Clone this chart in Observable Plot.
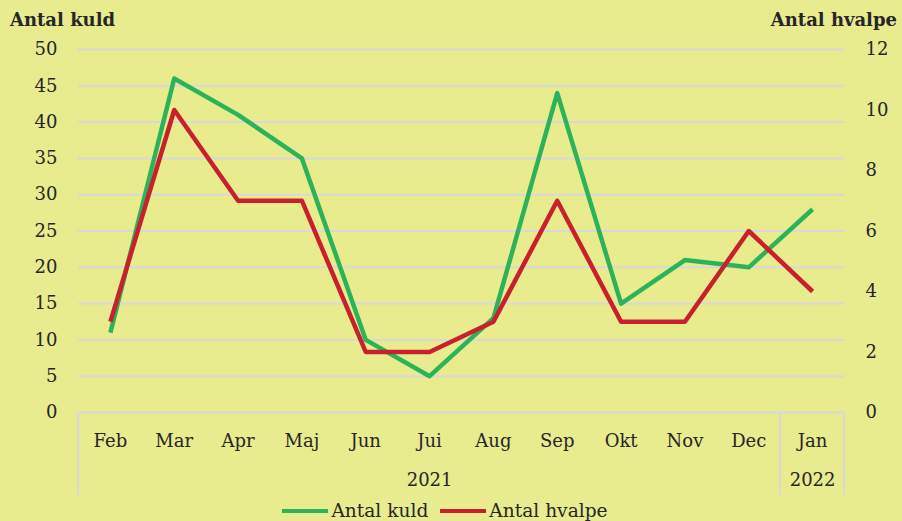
<!DOCTYPE html>
<html>
<head>
<meta charset="utf-8">
<script src="https://cdn.jsdelivr.net/npm/d3@7"></script>
<script src="https://cdn.jsdelivr.net/npm/@observablehq/plot@0.6"></script>
<style>
  html, body { margin: 0; padding: 0; }
  body { width: 902px; height: 521px; overflow: hidden; background: #e8eb8e; font-family: "DejaVu Serif", serif; color: #262626; position: relative; }
  #head { position: relative; height: 36px; font-weight: bold; font-size: 18px; }
  #head .l { position: absolute; left: 10px; top: 10px; line-height: 20px; }
  #head .r { position: absolute; right: 5px; top: 10px; line-height: 20px; }
  #chart svg { display: block; }
  #legend { position: absolute; left: 0; top: 500px; width: 890px; padding-right: 12px; height: 22px; display: flex; justify-content: center; align-items: center; font-size: 18.6px; line-height: 22px; }
  #legend .item { display: flex; align-items: center; margin: 0 6px; }
  #legend .sw { display: inline-block; width: 46px; height: 4px; margin-right: 3px; }
</style>
</head>
<body>
<div id="head"><span class="l">Antal kuld</span><span class="r">Antal hvalpe</span></div>
<div id="chart"></div>
<div id="legend"></div>
<script>
const months = ["Feb","Mar","Apr","Maj","Jun","Jui","Aug","Sep","Okt","Nov","Dec","Jan"];
const kuld = [11,46,41,35,10,5,13,44,15,21,20,28];
const hvalpe = [3,10,7,7,2,2,3,7,3,3,6,4];
const years = [{label:"2021", at:"Jui"}, {label:"2022", at:"Jan"}];
const yearBreaks = ["Feb","Jan"];
const leftTicks = [0,5,10,15,20,25,30,35,40,45,50];
const rightTicks = [0,2,4,6,8,10,12];
const leftMax = 50, rightMax = 12;
const seriesNames = ["Antal kuld","Antal hvalpe"];
const colors = ["#2cb35a","#c8202d"];

const kuldData = months.map((m,i) => ({m, v: kuld[i]}));
const hvalpeData = months.map((m,i) => ({m, v: hvalpe[i]}));
const toLeft = v => v * leftMax / rightMax;

const tickFont = 18;

function separators(index, scales, values, dims) {
  const x = scales.x;
  const step = x(months[1]) - x(months[0]);
  const g = d3.create("svg:g").attr("stroke", "#d9d9d9").attr("stroke-width", 2);
  const yb = dims.height - dims.marginBottom;
  const pos = [x(yearBreaks[0]) - step/2, x(yearBreaks[1]) - step/2, x(months[months.length-1]) + step/2];
  for (const p of pos) {
    g.append("line").attr("x1", p).attr("x2", p).attr("y1", yb).attr("y2", yb + 83);
  }
  return g.node();
}

const chart = Plot.plot({
  width: 902,
  height: 464,
  marginLeft: 78,
  marginRight: 58,
  marginTop: 13,
  marginBottom: 88,
  style: { background: "transparent", fontFamily: "DejaVu Serif, serif", fontSize: tickFont + "px", color: "#262626", overflow: "visible" },
  x: { type: "point", domain: months, padding: 0.5, round: false, axis: null },
  y: { domain: [0, leftMax], axis: null },
  marks: [
    Plot.ruleY(leftTicks, { stroke: "#d9d9d9", strokeWidth: 2 }),
    separators,
    Plot.text(leftTicks, { y: d => d, text: d => String(d), frameAnchor: "left", textAnchor: "end", dx: -21, fontSize: tickFont, fill: "#262626" }),
    Plot.text(rightTicks, { y: d => toLeft(d), text: d => String(d), frameAnchor: "right", textAnchor: "start", dx: 21, fontSize: tickFont, fill: "#262626" }),
    Plot.text(months, { x: d => d, text: d => d, frameAnchor: "bottom", dy: 34, fontSize: tickFont, fill: "#262626" }),
    Plot.text(years, { x: "at", text: "label", frameAnchor: "bottom", dy: 73, fontSize: tickFont, fill: "#262626" }),
    Plot.line(kuldData, { x: "m", y: "v", stroke: colors[0], strokeWidth: 4.5, strokeLinejoin: "round", strokeLinecap: "butt" }),
    Plot.line(hvalpeData, { x: "m", y: d => toLeft(d.v), stroke: colors[1], strokeWidth: 4.5, strokeLinejoin: "round", strokeLinecap: "butt" })
  ]
});
document.getElementById("chart").appendChild(chart);

const legend = d3.select("#legend");
seriesNames.forEach((n, i) => {
  const it = legend.append("span").attr("class", "item");
  it.append("span").attr("class", "sw").style("background", colors[i]);
  it.append("span").text(n);
});
</script>
</body>
</html>
